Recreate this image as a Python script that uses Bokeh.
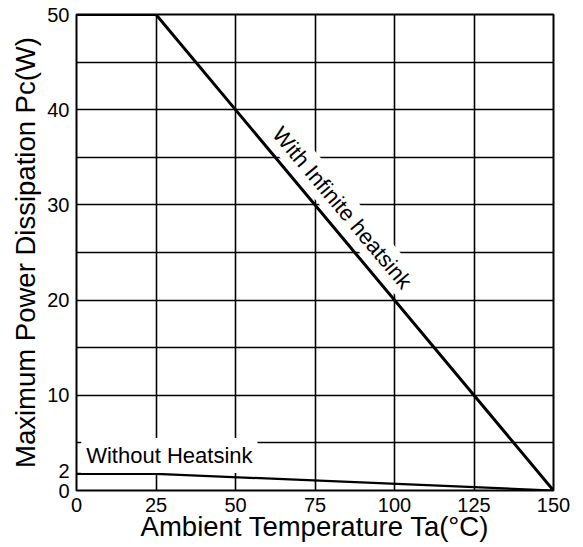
from bokeh.plotting import figure
from bokeh.models import Range1d, FixedTicker, Label
from bokeh.embed import file_html
from bokeh.resources import INLINE

# ---- data ----
temp_infinite = [0, 25, 150]
power_infinite = [50, 50, 0]
temp_nosink = [0, 25, 150]
power_nosink = [1.75, 1.75, 0]

x_tick_values = [0, 25, 50, 75, 100, 125, 150]
y_tick_values = [0, 2, 10, 20, 30, 40, 50]
x_grid_values = [25, 50, 75, 100, 125]
y_grid_values = [5, 10, 15, 20, 25, 30, 35, 40, 45]

x_title = "Ambient Temperature Ta(°C)"
y_title = "Maximum Power Dissipation Pc(W)"
label_infinite = "With Infinite heatsink"
label_nosink = "Without Heatsink"

FONT = "Liberation Sans"

p = figure(width=583, height=547, output_backend="svg", toolbar_location=None,
           x_range=Range1d(0, 150), y_range=Range1d(0, 50),
           min_border_left=76, min_border_right=30, min_border_top=14,
           min_border_bottom=57)
p.background_fill_color = "white"
p.border_fill_color = "white"
p.outline_line_color = "black"
p.outline_line_width = 2

for ax in (p.xaxis, p.yaxis):
    ax.axis_line_color = None
    ax.major_tick_line_color = None
    ax.minor_tick_line_color = None
    ax.major_label_text_font = FONT
    ax.major_label_text_font_size = "20px"
    ax.major_label_text_color = "black"
    ax.axis_label_text_font = FONT
    ax.axis_label_text_font_style = "normal"
    ax.axis_label_text_color = "black"
    ax.axis_label_text_font_size = "27.5px"

p.xaxis.axis_label = x_title
p.yaxis.axis_label = y_title
p.xaxis.ticker = FixedTicker(ticks=x_tick_values)
p.yaxis.ticker = FixedTicker(ticks=y_tick_values)
p.xaxis.major_label_standoff = 1
p.yaxis.major_label_standoff = 1
p.xaxis.axis_label_standoff = -4
p.yaxis.axis_label_standoff = 3

p.xgrid.ticker = FixedTicker(ticks=x_grid_values)
p.ygrid.ticker = FixedTicker(ticks=y_grid_values)
for g in (p.xgrid, p.ygrid):
    g.grid_line_color = "black"
    g.grid_line_width = 1.6
    g.grid_line_alpha = 1.0

p.line(temp_infinite, power_infinite, line_color="black", line_width=3)
p.line(temp_nosink, power_nosink, line_color="black", line_width=2.2)

p.add_layout(Label(x=83.6, y=29.7, text=label_infinite, angle=-50, angle_units="deg",
                   anchor="center", text_font=FONT, text_font_size="22px",
                   text_color="black", background_fill_color="white", padding=3))
p.add_layout(Label(x=29.2, y=3.68, text=label_nosink, anchor="center",
                   text_font=FONT, text_font_size="22px", text_color="black",
                   background_fill_color="white", padding=5))

open("out.html", "w").write(file_html(p, INLINE))
